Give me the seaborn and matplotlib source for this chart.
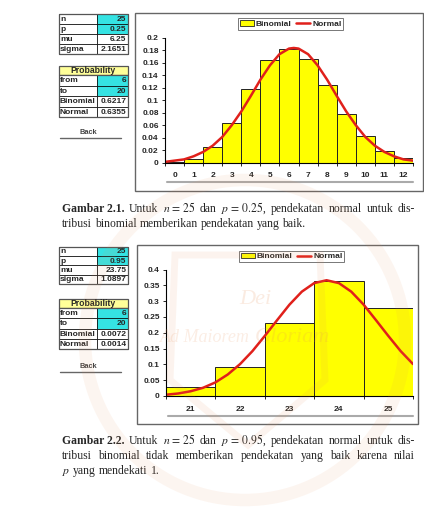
import matplotlib
matplotlib.use("Agg")
import matplotlib.pyplot as plt
import seaborn as sns
import numpy as np
from matplotlib.patches import Rectangle, Patch, Circle, Polygon
from matplotlib.lines import Line2D

sns.set_style("white")
plt.rcParams['font.family'] = ['Liberation Sans', 'DejaVu Sans']
plt.rcParams['mathtext.fontset'] = 'stix'

# ---- data: chart 1 (n=25, p=0.25)
k1 = [0, 1, 2, 3, 4, 5, 6, 7, 8, 9, 10, 11, 12]
binom1 = [0.001, 0.006, 0.025, 0.064, 0.118, 0.165, 0.183, 0.166, 0.124, 0.078, 0.042, 0.019, 0.007]
norm1_x = [-0.5, 0, 0.5, 1, 1.5, 2, 2.5, 3, 3.5, 4, 4.5, 5, 5.5, 6, 6.25, 6.5,
           7, 7.5, 8, 8.5, 9, 9.5, 10, 10.5, 11, 11.5, 12, 12.5]
norm1_y = [0.001, 0.003, 0.005, 0.010, 0.017, 0.027, 0.041, 0.060, 0.082, 0.107, 0.133, 0.156, 0.174, 0.183, 0.184, 0.183,
           0.174, 0.156, 0.133, 0.107, 0.082, 0.060, 0.041, 0.027, 0.017, 0.010, 0.005, 0.003]
params1 = ["25", "0.25", "6.25", "2.1651"]
prob1 = ["6", "20", "0.6217", "0.6355"]

# ---- data: chart 2 (n=25, p=0.95)
k2 = [21, 22, 23, 24, 25]
binom2 = [0.027, 0.093, 0.231, 0.365, 0.277]
norm2_x = [20.5, 20.75, 21, 21.25, 21.5, 21.75, 22, 22.25, 22.5, 22.75, 23, 23.25, 23.5,
           23.75, 24, 24.25, 24.5, 24.75, 25, 25.25, 25.5]
norm2_y = [0.004, 0.008, 0.015, 0.026, 0.043, 0.068, 0.101, 0.142, 0.190, 0.240, 0.289, 0.330, 0.357,
           0.366, 0.357, 0.330, 0.289, 0.240, 0.190, 0.142, 0.101]
params2 = ["25", "0.95", "23.75", "1.0897"]
prob2 = ["6", "20", "0.0072", "0.0014"]

param_labels = ["n", "p", "mu", "sigma"]
prob_labels = ["from", "to", "Binomial", "Normal"]

W, H = 424, 525
fig = plt.figure(figsize=(W / 100, H / 100), dpi=100)
fig.patch.set_facecolor("white")

# overlay in pixel coordinates for frames, tables and captions
ov = fig.add_axes([0, 0, 1, 1])
ov.set_xlim(0, W)
ov.set_ylim(H, 0)
ov.axis("off")
ov.set_zorder(0)

YELLOW = "#ffff00"
RED = "#e0201b"
CYAN = "#35e3e3"
HEAD = "#ffff99"
WM = "#e8925a"

# faint university watermark, laid over everything like the scan
wm = fig.add_axes([0, 0, 1, 1])
wm.set_xlim(0, W)
wm.set_ylim(H, 0)
wm.axis("off")
wm.set_zorder(5)
wm.patch.set_alpha(0)
wm.add_patch(Circle((245, 340), 160, fc="none", ec=WM, lw=9, alpha=0.09))
wm.add_patch(Polygon([(175, 255), (320, 255), (325, 380), (248, 445), (170, 380)],
                     closed=True, fc="none", ec=WM, lw=5, alpha=0.10))
wm.text(255, 300, "Dei", fontsize=16, family="Liberation Serif", style="italic",
        color=WM, alpha=0.18, ha="center", va="center")
wm.text(205, 338, "Ad Maiorem", fontsize=13, family="Liberation Serif", style="italic",
        color=WM, alpha=0.16, ha="center", va="center")
wm.text(292, 338, "Gloriam", fontsize=16, family="Liberation Serif", style="italic",
        color=WM, alpha=0.18, ha="center", va="center")


def px_axes(x0, y0, x1, y1):
    a = fig.add_axes([x0 / W, 1 - y1 / H, (x1 - x0) / W, (y1 - y0) / H])
    a.set_zorder(2)
    a.patch.set_alpha(0)
    return a


def draw_chart(ax, k, binom, nx, ny, ymax, ystep, legend_center):
    sns.barplot(x=k, y=binom, native_scale=True, width=1, color=YELLOW, saturation=1,
                edgecolor="#222222", linewidth=0.7, ax=ax)
    sns.lineplot(x=nx, y=ny, color=RED, lw=1.8, ax=ax)
    ax.set_xlim(k[0] - 0.5, k[-1] + 0.5)
    ax.set_ylim(0, ymax)
    yt = np.round(np.arange(0, ymax + ystep / 2, ystep), 3)
    ax.set_yticks(yt)
    ax.set_yticklabels([f"{v:g}" for v in yt])
    ax.set_xticks(k)
    ax.set_xticklabels([str(v) for v in k])
    ax.set_xticks(np.arange(k[0] - 0.5, k[-1] + 1, 1), minor=True)
    ax.tick_params(axis="x", which="major", length=0, pad=7, labelsize=6)
    ax.tick_params(axis="x", which="minor", length=2.5, width=0.7, direction="out", bottom=True)
    ax.tick_params(axis="y", which="major", length=2.5, width=0.7, direction="out", left=True, pad=2, labelsize=6)
    for lab in ax.get_xticklabels() + ax.get_yticklabels():
        lab.set_fontweight("bold")
    for s in ["top", "right"]:
        ax.spines[s].set_visible(False)
    for s in ["left", "bottom"]:
        ax.spines[s].set_color("black")
        ax.spines[s].set_linewidth(0.8)
    ax.set_xlabel("")
    ax.set_ylabel("")
    handles = [Patch(facecolor=YELLOW, edgecolor="#222222", linewidth=0.6),
               Line2D([], [], color=RED, lw=1.8)]
    leg = ax.legend(handles, ["Binomial", "Normal"], ncol=2, loc="center",
                    bbox_to_anchor=(legend_center[0] / W, 1 - legend_center[1] / H),
                    bbox_transform=fig.transFigure, fancybox=False, framealpha=1,
                    edgecolor="#777777", prop={"size": 6, "weight": "bold"},
                    handlelength=1.7, handleheight=0.6, handletextpad=0.25,
                    columnspacing=0.5, borderpad=0.25, borderaxespad=0)
    leg.get_frame().set_linewidth(0.7)


def draw_table(x0, xd, x1, ys, labels, values, cyan_rows):
    for i, (lab, val) in enumerate(zip(labels, values)):
        ya, yb = ys[i], ys[i + 1]
        ov.add_patch(Rectangle((x0, ya), xd - x0, yb - ya, fc="white", ec="black", lw=0.5))
        ov.add_patch(Rectangle((xd, ya), x1 - xd, yb - ya,
                               fc=CYAN if i in cyan_rows else "white", ec="black", lw=0.5))
        ym = (ya + yb) / 2
        ov.text(x0 + 1.5, ym + 0.3, lab, fontsize=6, fontweight="bold", va="center", ha="left")
        ov.text(x1 - 1.5, ym + 0.3, val, fontsize=6, fontweight="bold", va="center", ha="right")
    ov.add_patch(Rectangle((x0, ys[0]), x1 - x0, ys[-1] - ys[0], fc="none", ec="#555555", lw=0.9))


def draw_panel(params, prob, rows, prob_head, prob_rows, back_y):
    draw_table(58.5, 96.5, 128, rows, param_labels, params, [0, 1])
    ov.add_patch(Rectangle((58.5, prob_head[0]), 69.5, prob_head[1] - prob_head[0],
                           fc=HEAD, ec="#555555", lw=0.9))
    ov.text(93, (prob_head[0] + prob_head[1]) / 2 + 0.3, "Probability", fontsize=6.2,
            fontweight="bold", ha="center", va="center")
    draw_table(58.5, 96.5, 128, prob_rows, prob_labels, prob, [0, 1])
    ov.text(88, back_y, "Back", fontsize=5.3, fontweight="bold", color="#444444", ha="center", va="center")
    ov.plot([60, 121], [back_y + 5, back_y + 5], color="#666666", lw=1.0)


def justify(words, y, x0, x1, fs, last=False):
    r = fig.canvas.get_renderer()
    txts = []
    for w in words:
        if isinstance(w, tuple):
            t = ov.text(0, y, w[0], fontsize=fs, fontweight="bold", va="baseline",
                        family="Liberation Serif")
        else:
            t = ov.text(0, y, w, fontsize=fs, va="baseline", family="Liberation Serif")
        txts.append(t)
    widths = [t.get_window_extent(r).width for t in txts]
    if last:
        gap = fs * 100 / 72 * 0.25
    else:
        gap = (x1 - x0 - sum(widths)) / (len(words) - 1)
    x = x0
    for t, w in zip(txts, widths):
        t.set_x(x)
        x += w + gap


# ---- frames
ov.add_patch(Rectangle((135, 13), 288, 178, fc="white", ec="#666666", lw=1.0, zorder=1))
ov.add_patch(Rectangle((137, 245), 281, 179, fc="none", ec="#666666", lw=1.0, zorder=1))
ov.plot([167, 413], [182, 182], color="#aaaaaa", lw=1.5)
ov.plot([168, 413], [416, 416], color="#aaaaaa", lw=1.5)

# ---- chart 1
ax1 = px_axes(165, 38, 413, 162.5)
draw_chart(ax1, k1, binom1, norm1_x, norm1_y, 0.2, 0.02, (290.5, 24))
draw_panel(params1, prob1, [14, 24, 34, 44, 54], (66, 75), [75, 85.5, 96, 106.5, 117], 133)

# ---- chart 2
ax2 = px_axes(166, 269.5, 413, 396)
draw_chart(ax2, k2, binom2, norm2_x, norm2_y, 0.4, 0.05, (291.5, 256.5))
draw_panel(params2, prob2, [247, 256.2, 265.4, 274.6, 284], (299, 308), [308, 318.3, 328.6, 338.8, 349], 367)

# ---- captions
fs = 8.4
fig.canvas.draw()
justify([("Gambar 2.1.",), "Untuk", "$n\\,=\\,25$", "dan", "$p\\,=\\,0.25$,", "pendekatan", "normal",
         "untuk", "dis-"], 212, 62, 415, fs)
justify(["tribusi", "binomial", "memberikan", "pendekatan", "yang", "baik."], 227, 62, 415, fs, last=True)
justify([("Gambar 2.2.",), "Untuk", "$n\\,=\\,25$", "dan", "$p\\,=\\,0.95$,", "pendekatan", "normal",
         "untuk", "dis-"], 444, 62, 415, fs)
justify(["tribusi", "binomial", "tidak", "memberikan", "pendekatan", "yang", "baik", "karena", "nilai"],
        459, 62, 415, fs)
justify(["$p$", "yang", "mendekati", "1."], 474, 62, 415, fs, last=True)

fig.savefig("out.png", dpi=100)
